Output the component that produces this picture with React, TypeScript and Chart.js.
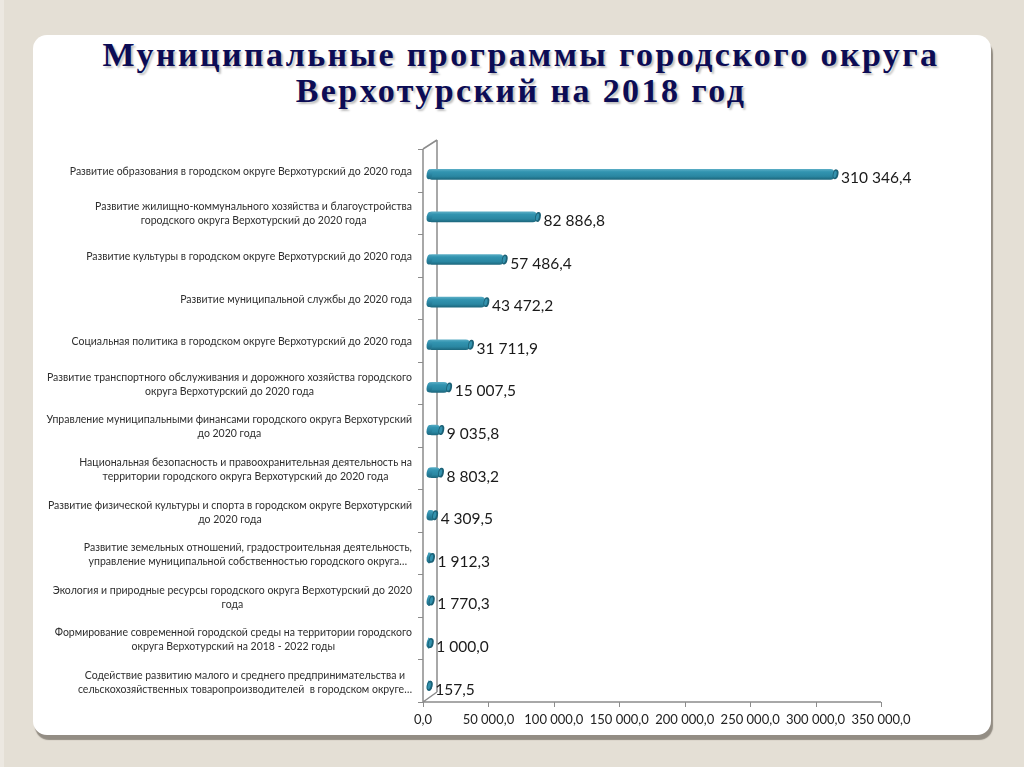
import React, { useEffect, useRef } from 'react';
import { Chart, registerables } from 'chart.js';

Chart.register(...registerables);

const titleLines: string[] = [
  'Муниципальные программы городского округа',
  'Верхотурский на 2018 год',
];

const categories: string[][] = [
  ['Развитие образования в городском округе Верхотурский до 2020 года'],
  ['Развитие жилищно-коммунального хозяйства и благоустройства', 'городского округа Верхотурский до 2020 года'],
  ['Развитие культуры в городском округе Верхотурский до 2020 года'],
  ['Развитие муниципальной службы до 2020 года'],
  ['Социальная политика в городском округе Верхотурский до 2020 года'],
  ['Развитие транспортного обслуживания и дорожного хозяйства городского', 'округа Верхотурский до 2020 года'],
  ['Управление муниципальными финансами городского округа Верхотурский', 'до 2020 года'],
  ['Национальная безопасность и правоохранительная деятельность на', 'территории городского округа Верхотурский до 2020 года'],
  ['Развитие физической культуры и спорта в городском округе Верхотурский', 'до 2020 года'],
  ['Развитие земельных отношений, градостроительная деятельность,', 'управление муниципальной собственностью городского округа…'],
  ['Экология и природные ресурсы городского округа Верхотурский до 2020', 'года'],
  ['Формирование современной городской среды на территории городского', 'округа Верхотурский на 2018 - 2022 годы'],
  ['Содействие развитию малого и среднего предпринимательства и', 'сельскохозяйственных товаропроизводителей  в городском округе…'],
];

const values: number[] = [
  310346.4, 82886.8, 57486.4, 43472.2, 31711.9, 15007.5, 9035.8, 8803.2, 4309.5, 1912.3, 1770.3, 1000.0, 157.5,
];

const xTicks: number[] = [0, 50000, 100000, 150000, 200000, 250000, 300000, 350000];

const fmt = (v: number): string => {
  const [i, d] = v.toFixed(1).split('.');
  return i.replace(/\B(?=(\d{3})+(?!\d))/g, ' ') + ',' + d;
};

const DEPTH_X = 5; // front axis offset relative to bar plane
const FONT = 'Lato, "Open Sans", "Liberation Sans", sans-serif';
const BAR_H = 10;

const framePlugin = {
  id: 'frame3d',
  beforeDatasetsDraw(chart: any) {
    const { ctx, chartArea } = chart;
    const xs = chart.scales.x;
    const frontX = chartArea.left - DEPTH_X;
    const frontTop = chartArea.top - 4;
    const frontBottom = chartArea.bottom - 5;
    const backX = frontX + 14;
    const backTop = frontTop - 9;
    const backBottom = frontBottom - 10;
    ctx.save();
    ctx.strokeStyle = '#8c8c8c';
    ctx.lineWidth = 1.5;
    ctx.beginPath();
    ctx.moveTo(backX, backTop);
    ctx.lineTo(backX, backBottom);
    ctx.moveTo(frontX, frontTop);
    ctx.lineTo(backX, backTop);
    ctx.moveTo(frontX, frontBottom);
    ctx.lineTo(backX, backBottom);
    ctx.moveTo(frontX, frontTop);
    ctx.lineTo(frontX, frontBottom);
    const xEnd = xs.getPixelForValue(xTicks[xTicks.length - 1]) - DEPTH_X;
    ctx.moveTo(frontX, frontBottom);
    ctx.lineTo(xEnd, frontBottom);
    ctx.stroke();

    ctx.lineWidth = 1;
    ctx.beginPath();
    const n = categories.length;
    const step = (frontBottom - frontTop) / n;
    for (let i = 0; i <= n; i++) {
      const y = Math.round(frontTop + i * step) + 0.5;
      ctx.moveTo(frontX - 5, y);
      ctx.lineTo(frontX, y);
    }
    xTicks.forEach((t) => {
      const x = Math.round(xs.getPixelForValue(t) - DEPTH_X) + 0.5;
      ctx.moveTo(x, frontBottom);
      ctx.lineTo(x, frontBottom + 5);
    });
    ctx.stroke();

    ctx.fillStyle = '#222';
    ctx.font = '13px ' + FONT;
    ctx.textAlign = 'center';
    ctx.textBaseline = 'middle';
    xTicks.forEach((t) => {
      ctx.fillText(fmt(t), xs.getPixelForValue(t) - DEPTH_X, frontBottom + 18);
    });

    const ys = chart.scales.y;
    ctx.font = '10.5px ' + FONT;
    ctx.fillStyle = '#2e2e2e';
    const rightEdge = frontX - 11;
    categories.forEach((lines, i) => {
      const cy = ys.getPixelForValue(i) - 3;
      const maxW = Math.max(...lines.map((l) => ctx.measureText(l).width));
      const cx = rightEdge - maxW / 2;
      const lh = 14;
      lines.forEach((l, k) => {
        ctx.fillText(l, cx, cy + (k - (lines.length - 1) / 2) * lh);
      });
    });
    ctx.restore();
  },
  afterDatasetsDraw(chart: any) {
    const { ctx } = chart;
    const meta = chart.getDatasetMeta(0);
    ctx.save();
    meta.data.forEach((bar: any, i: number) => {
      const x = bar.x;
      const y = bar.y;
      const base = bar.base;
      const h = BAR_H;
      const g = ctx.createLinearGradient(0, y - h / 2, 0, y + h / 2);
      g.addColorStop(0, '#4aa3bd');
      g.addColorStop(0.4, '#2d8caa');
      g.addColorStop(1, '#1d6a81');
      ctx.fillStyle = g;
      ctx.beginPath();
      ctx.ellipse(base + 1.5, y, 2.8, h / 2, 0.2, 0, Math.PI * 2);
      ctx.fill();
      ctx.fillStyle = '#1c6176';
      ctx.beginPath();
      ctx.ellipse(x + 1.5, y, 2.8, h / 2, 0.2, 0, Math.PI * 2);
      ctx.fill();
      ctx.fillStyle = '#3392ae';
      ctx.beginPath();
      ctx.ellipse(x + 1.0, y, 1.5, h / 2 - 1.5, 0.2, 0, Math.PI * 2);
      ctx.fill();
      ctx.fillStyle = '#1a1a1a';
      ctx.font = '15.5px ' + FONT;
      ctx.textAlign = 'left';
      ctx.textBaseline = 'middle';
      ctx.fillText(fmt(values[i]), x + 7, y + 4);
    });
    ctx.restore();
  },
};

export default function App() {
  const canvasRef = useRef<HTMLCanvasElement | null>(null);

  useEffect(() => {
    const canvas = canvasRef.current;
    if (!canvas) return;
    const chart = new Chart(canvas, {
      type: 'bar',
      data: {
        labels: categories.map((c) => c.join(' ')),
        datasets: [
          {
            data: values,
            barThickness: BAR_H,
            borderRadius: 4,
            borderSkipped: false,
            backgroundColor: (c: any) => {
              const ch = c.chart;
              const area = ch.chartArea;
              if (!area || !ch.scales.y) return '#2f8aa5';
              const y = ch.scales.y.getPixelForValue(c.dataIndex);
              const g = ch.ctx.createLinearGradient(0, y - BAR_H / 2, 0, y + BAR_H / 2);
              g.addColorStop(0, '#58acc4');
              g.addColorStop(0.25, '#3294b0');
              g.addColorStop(0.7, '#2a87a2');
              g.addColorStop(1, '#1d687e');
              return g;
            },
          },
        ],
      },
      options: {
        indexAxis: 'y',
        responsive: false,
        animation: false,
        devicePixelRatio: 1,
        layout: { padding: { left: 428, right: 138, top: 153, bottom: 60 } },
        plugins: {
          legend: { display: false },
          tooltip: { enabled: false },
          title: { display: false },
        },
        scales: {
          x: { type: 'linear', min: 0, max: 350000, display: false },
          y: { type: 'category', display: false, offset: true },
        },
      },
      plugins: [framePlugin],
    });
    return () => chart.destroy();
  }, []);

  return (
    <div
      style={{
        position: 'fixed',
        left: 0,
        top: 0,
        width: 1024,
        height: 767,
        overflow: 'hidden',
        background: '#e4dfd5',
      }}
    >
      <div style={{ position: 'absolute', left: 0, top: 0, width: 4, height: 767, background: '#ece8e1' }} />
      <div
        style={{
          position: 'absolute',
          left: 33,
          top: 35,
          width: 958,
          height: 700,
          background: '#ffffff',
          borderRadius: 14,
          boxShadow: '2px 5px 1px rgba(120,114,104,0.75)',
        }}
      />
      <div
        style={{
          position: 'absolute',
          left: 33,
          top: 37,
          width: 976,
          textAlign: 'center',
          fontFamily: '"Liberation Serif", "Times New Roman", serif',
          fontWeight: 'bold',
          fontSize: 34,
          lineHeight: '36px',
          letterSpacing: 2.4,
          color: '#0c0c55',
          textShadow: '2px 2px 2px rgba(0,0,0,0.25)',
        }}
      >
        {titleLines.map((l, i) => (
          <div key={i}>{l}</div>
        ))}
      </div>
      <canvas
        ref={canvasRef}
        width={1024}
        height={767}
        style={{ position: 'absolute', left: 0, top: 0, width: 1024, height: 767 }}
      />
    </div>
  );
}
